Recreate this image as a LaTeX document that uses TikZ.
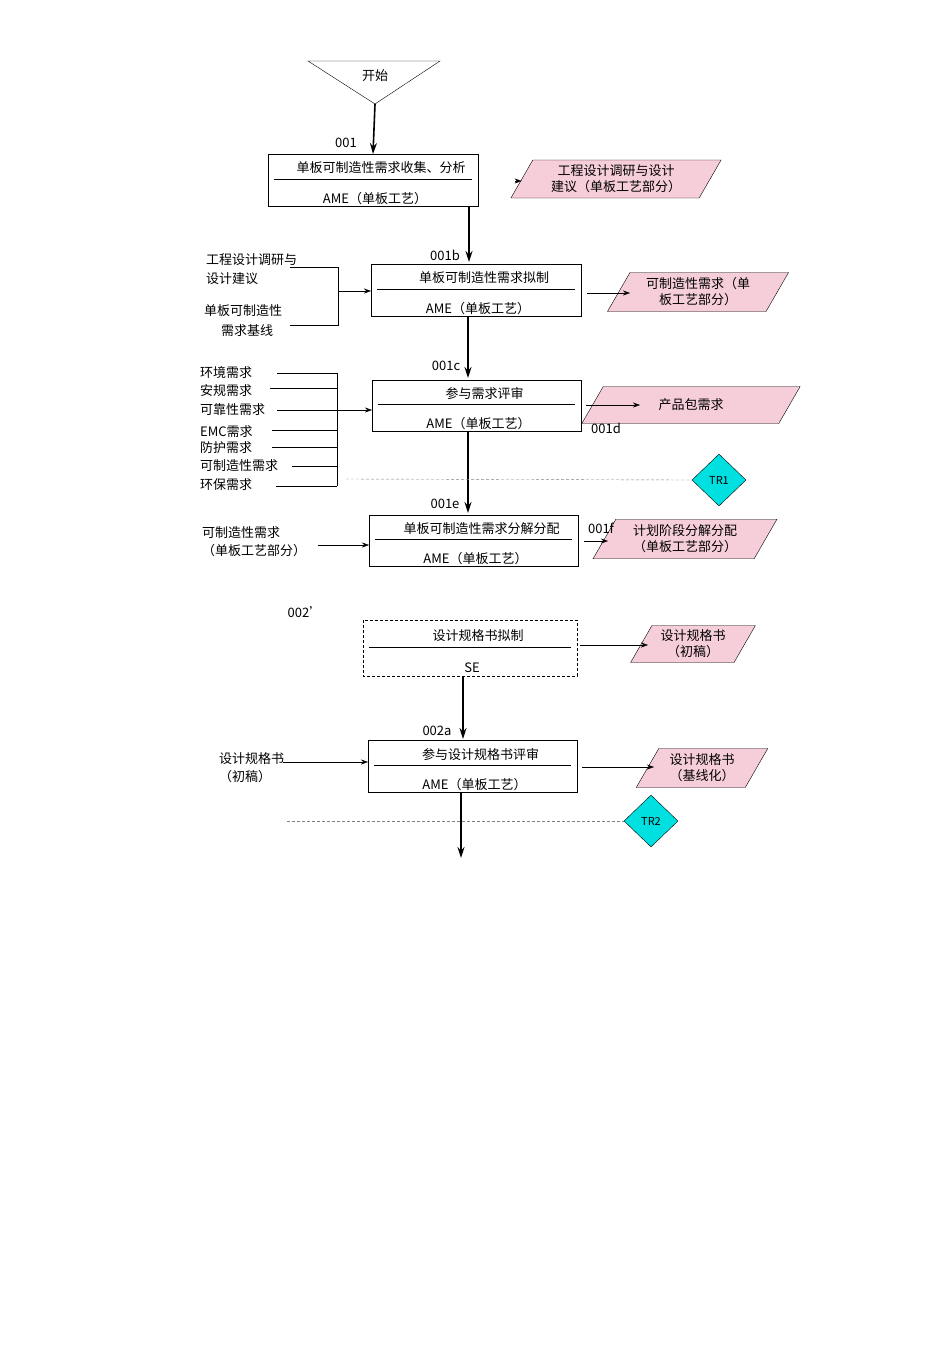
\documentclass[tikz,border=0pt]{standalone}
\usepackage{fontspec}
\setmainfont{Noto Sans CJK SC}
\usetikzlibrary{shapes.geometric,arrows.meta}
\definecolor{pk}{RGB}{246,206,218}
\definecolor{cy}{RGB}{0,224,224}
\begin{document}
\begin{tikzpicture}[x=1pt,y=-1pt,font=\fontsize{13}{15}\selectfont,
  box/.style={draw,thin},
  ar/.style={-{Stealth[length=7pt,width=5pt]}},
  thk/.style={line width=1.6pt,-{Stealth[length=11pt,width=7pt]}},
  par/.style={trapezium,trapezium left angle=60,trapezium right angle=120,draw,fill=pk,inner sep=1pt,align=center,font=\fontsize{13}{16}\selectfont},
  dia/.style={diamond,draw,fill=cy,minimum width=54pt,minimum height=52pt,inner sep=0pt,font=\fontsize{11}{12}\selectfont},
  lbl/.style={inner sep=0pt}]
\useasboundingbox (0,0) rectangle (950,1345);
% start
\node[lbl] (start) at (375,76) {开始};
\draw (308,61) -- (440,61) -- (375,104) -- cycle;
\coordinate (apex) at (375,104);
% boxes
\newcommand{\pbox}[8]{%
 \draw[box,#8] (#2,#3) rectangle (#4,#5);
 \coordinate (#1n) at ({(#2+#4)/2},#3);
 \coordinate (#1s) at ({(#2+#4)/2},#5);
 \draw (#2+6,{#3+(#5-#3)*0.48}) -- (#4-6,{#3+(#5-#3)*0.48});
 \node[lbl] (#1t) at ({(#2+#4)/2+8},{#3+(#5-#3)*0.27}) {#6};
 \node[lbl] (#1b) at ({(#2+#4)/2+2},{#3+(#5-#3)*0.85}) {#7};}
\pbox{b1}{268}{154}{478}{206}{单板可制造性需求收集、分析}{AME（单板工艺）}{}
\pbox{b2}{371}{264}{581}{316}{单板可制造性需求拟制}{AME（单板工艺）}{}
\pbox{b3}{372}{380}{581}{431}{参与需求评审}{AME（单板工艺）}{}
\pbox{b4}{369}{515}{578}{566}{单板可制造性需求分解分配}{AME（单板工艺）}{}
\pbox{b5}{363}{620}{577}{676}{设计规格书拟制}{SE}{densely dashed}
\pbox{b6}{368}{740}{577}{792}{参与设计规格书评审}{AME（单板工艺）}{}
% outputs
\node[par,minimum width=200pt,minimum height=38pt] (p1) at (616,179) {工程设计调研与设计\\建议（单板工艺部分）};
\node[par,minimum width=174pt,minimum height=39pt] (p2) at (698,292) {可制造性需求（单\\板工艺部分）};
\node[par,minimum width=123pt,minimum height=37pt] (p3) at (691,405) {产品包需求};
\node[par,minimum width=184pt,minimum height=38pt] (p4) at (685,539) {计划阶段分解分配\\（单板工艺部分）};
\node[par,minimum width=113pt,minimum height=37pt] (p5) at (693,644) {设计规格书\\（初稿）};
\node[par,minimum width=125pt,minimum height=39pt] (p6) at (702,768) {设计规格书\\（基线化）};
\node[dia] (tr1) at (719,480) {TR1};
\node[dia] (tr2) at (651,821) {TR2};
% main flow
\draw[thk] (apex) -- (b1n);
\draw[thk] (469,207) -- (469,262);
\draw[thk] (468,317) -- (468,378);
\draw[thk] (468,432) -- (468,513);
\draw[thk] (463,677) -- (463,739);
\draw[thk] (461,793) -- (461,858);
% output arrows
\draw[ar] (515,181) -- (p1.west|-0,181);
\draw[ar] (587,293) -- (630,293);
\draw[ar] (586,405) -- (640,405);
\draw[ar] (584,541) -- (608,541);
\draw[ar] (580,645) -- (648,645);
\draw[ar] (582,767) -- (654,767);
% labels
\node[lbl] (l001) at (346,143) {001};
\node[lbl] (l001b) at (445,255) {001b};
\node[lbl] (l001c) at (446,366) {001c};
\node[lbl] (l001d) at (606,428) {001d};
\node[lbl] (l001e) at (445,504) {001e};
\node[lbl] (l001f) at (601,528) {001f};
\node[lbl] (l002) at (305,612) {002'};
\node[lbl] (l002a) at (437,731) {002a};
% inputs B2
\node[lbl,anchor=west] (i1) at (206,260) {工程设计调研与};
\node[lbl,anchor=west] (i1b) at (206,279) {设计建议};
\node[lbl,anchor=west] (i2) at (204,311) {单板可制造性};
\node[lbl,anchor=west] (i2b) at (221,331) {需求基线};
\draw (290,267) -- (338,267) -- (338,325) -- (290,325);
\draw[ar] (338,291) -- (371,291);
% inputs B3
\foreach \t/\y/\s in {环境需求/373/277,安规需求/391/270,可靠性需求/410/277,EMC需求/432/272,防护需求/448/272,可制造性需求/466/292,环保需求/485/276}{
  \node[lbl,anchor=west] at (200,\y) {\t};
}
\foreach \y/\s in {373/277,388/270,410/277,430/272,447/272,466/292,486/276}{\draw (\s,\y) -- (337,\y);}
\draw (337,373) -- (337,486);
\draw[ar] (337,410) -- (372,410);
\draw[densely dashed,gray] (346,479) -- (tr1.west);
% B4 input
\node[lbl,anchor=west] (i4) at (202,533) {可制造性需求};
\node[lbl,anchor=west] (i4b) at (202,551) {（单板工艺部分）};
\draw[ar] (318,545) -- (369,545);
% B6 input
\node[lbl,anchor=west] (i6) at (219,759) {设计规格书};
\node[lbl,anchor=west] (i6b) at (219,777) {（初稿）};
\draw[ar] (283,762) -- (368,762);
\draw[densely dashed,gray] (287,821) -- (tr2.west);
\end{tikzpicture}
\end{document}
